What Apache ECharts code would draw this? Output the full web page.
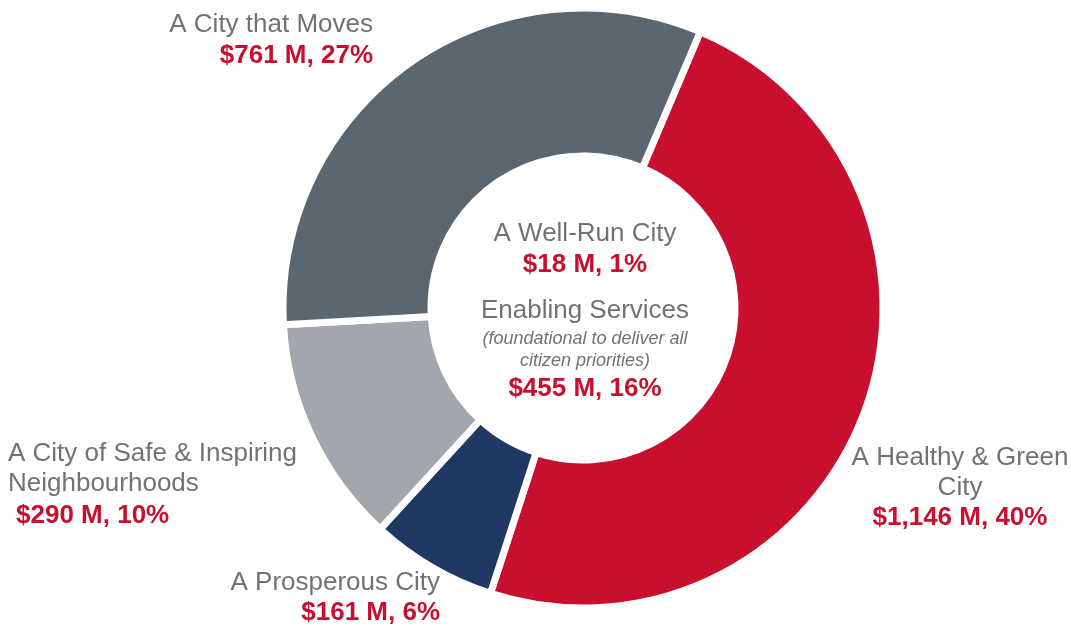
<!DOCTYPE html>
<html>
<head>
<meta charset="utf-8">
<script src="https://cdn.jsdelivr.net/npm/echarts@6/dist/echarts.min.js"></script>
<style>
  html, body { margin: 0; padding: 0; background: #fff; }
  #chart { width: 1071px; height: 629px; }
</style>
</head>
<body>
<div id="chart"></div>
<script>
// ring slices, clockwise from the top-right gap
var ringNames = ['A Healthy & Green City', 'A Prosperous City', 'A City of Safe & Inspiring Neighbourhoods', 'A City that Moves'];
var ringLines = [['A Healthy & Green', 'City'], ['A Prosperous City'], ['A City of Safe & Inspiring', 'Neighbourhoods'], ['A City that Moves']];
var ringValues = [1146, 161, 290, 761];
var ringPercents = [40, 6, 10, 27];
var ringColors = ['#c8102e', '#1f3864', '#a2a7ad', '#5a6670'];

// items shown in the hole
var centreNames = ['A Well-Run City', 'Enabling Services'];
var centreValues = [18, 455];
var centrePercents = [1, 16];
var centreNote = ['(foundational to deliver all', 'citizen priorities)'];

var nameColor = '#767171';
var valueColor = '#c8102e';
var font = '"Liberation Sans", Arial, sans-serif';

function money(v, p) {
  return '$' + v.toLocaleString('en-US') + ' M, ' + p + '%';
}

// label anchors for each ring slice
var anchors = [
  { x: 960, y: 458, align: 'center', vx: 960, vy: 518 },
  { x: 440, y: 583, align: 'right', vx: 440, vy: 613 },
  { x: 8, y: 454, align: 'left', vx: 16, vy: 516 },
  { x: 373, y: 25, align: 'right', vx: 373, vy: 56 }
];

var graphics = [];
function addText(text, x, y, align, color, bold, size, italic) {
  graphics.push({
    type: 'text',
    x: x,
    y: y,
    silent: true,
    style: {
      text: text,
      fill: color,
      font: (italic ? 'italic ' : '') + (bold ? 'bold ' : '') + size + 'px ' + font,
      textAlign: align,
      textVerticalAlign: 'middle'
    }
  });
}

ringLines.forEach(function (lines, i) {
  var a = anchors[i];
  lines.forEach(function (line, j) {
    addText(line, a.x, a.y + j * 30, a.align, nameColor, false, 26);
  });
  addText(money(ringValues[i], ringPercents[i]), a.vx, a.vy, a.align, valueColor, true, 26);
});

var cx = 585;
addText(centreNames[0], cx, 234, 'center', nameColor, false, 26);
addText(money(centreValues[0], centrePercents[0]), cx, 265, 'center', valueColor, true, 26);
addText(centreNames[1], cx, 311, 'center', nameColor, false, 26);
addText(centreNote[0], cx, 339, 'center', nameColor, false, 18, true);
addText(centreNote[1], cx, 361, 'center', nameColor, false, 18, true);
addText(money(centreValues[1], centrePercents[1]), cx, 389, 'center', valueColor, true, 26);

var chart = echarts.init(document.getElementById('chart'));

var option = {
  animation: false,
  series: [{
    type: 'pie',
    center: [583, 308],
    radius: [152, 300],
    startAngle: 67,
    clockwise: true,
    label: { show: false },
    labelLine: { show: false },
    emphasis: { disabled: true },
    itemStyle: {
      borderColor: '#ffffff',
      borderWidth: 7
    },
    data: ringNames.map(function (name, i) {
      return { name: name, value: ringValues[i], itemStyle: { color: ringColors[i] } };
    })
  }],
  graphic: graphics
};

chart.setOption(option);
</script>
</body>
</html>
